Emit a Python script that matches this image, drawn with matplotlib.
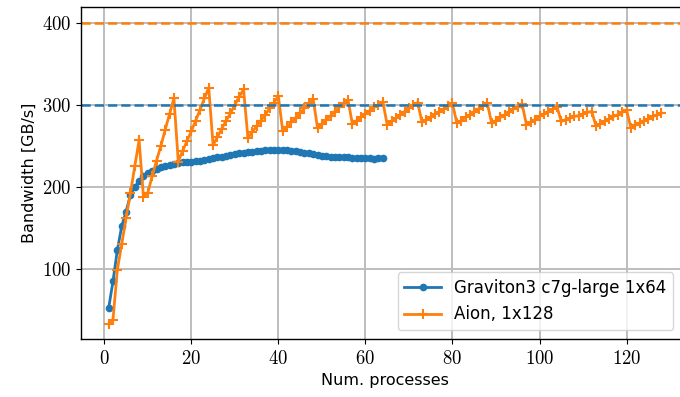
import matplotlib
matplotlib.use("Agg")
import matplotlib.pyplot as plt
from matplotlib.ticker import FuncFormatter

plt.rcParams["mathtext.fontset"] = "cm"
plt.rcParams["font.family"] = ["DejaVu Sans"]

# Graviton3 c7g-large, 1..64 processes
graviton_procs = list(range(1, 65))
graviton_bw = [52, 85, 123, 152, 170, 190, 200, 207, 213, 217, 220, 222, 224, 225, 227, 228,
               229, 230, 230, 231, 232, 232, 233, 234, 235, 236, 237, 238, 239, 240, 241, 242,
               243, 243, 244, 244, 245, 245, 245, 245, 245, 245, 244, 244, 243, 242, 241, 240,
               239, 238, 238, 237, 237, 236, 236, 236, 235, 235, 235, 235, 235, 234, 235, 235]

# Aion, 1..128 processes
aion_procs = list(range(1, 129))
aion_bw = [33, 38, 99, 130, 162, 192, 225, 257,
           188, 193, 213, 232, 250, 270, 289, 308,
           231, 244, 256, 268, 281, 294, 308, 321,
           251, 261, 271, 281, 290, 300, 310, 319,
           260, 267, 274, 281, 288, 296, 303, 311,
           268, 273, 279, 284, 290, 296, 302, 307,
           272, 277, 282, 287, 292, 297, 302, 306,
           277, 281, 285, 289, 293, 297, 300, 304,
           276, 280, 284, 288, 292, 296, 300, 303,
           279, 282, 285, 289, 292, 295, 299, 302,
           278, 281, 285, 288, 292, 295, 299, 302,
           278, 281, 285, 288, 291, 295, 298, 301,
           276, 279, 282, 286, 289, 292, 295, 298,
           280, 282, 284, 286, 287, 289, 291, 292,
           274, 277, 280, 283, 286, 288, 291, 294,
           272, 275, 278, 281, 283, 286, 288, 290]

# peak bandwidths
graviton_peak = 300
aion_peak = 400

fig = plt.figure(figsize=(6.8, 3.97), dpi=100)
ax = fig.add_axes([81 / 680, 58 / 397, 608 / 680, 332 / 397])

ax.plot(graviton_procs, graviton_bw, color="tab:blue", marker="o", markersize=4.5,
        linewidth=2, label="Graviton3 c7g-large 1x64")
ax.plot(aion_procs, aion_bw, color="tab:orange", marker="+", markersize=7.5,
        markeredgewidth=1.5, linewidth=2, label="Aion, 1x128")
ax.axhline(graviton_peak, color="tab:blue", linestyle="--", linewidth=1.8)
ax.axhline(aion_peak, color="tab:orange", linestyle="--", linewidth=1.8)

ax.set_xlim(-5.35, 134.35)
ax.set_ylim(14.5, 419.5)
ax.set_xticks([0, 20, 40, 60, 80, 100, 120])
ax.set_yticks([100, 200, 300, 400])
fmt = FuncFormatter(lambda v, p: f"${v:g}$")
ax.xaxis.set_major_formatter(fmt)
ax.yaxis.set_major_formatter(fmt)
ax.tick_params(labelsize=13.5)
ax.grid(True, color="#bdbdbd", linewidth=1.4)
ax.set_axisbelow(True)
ax.spines["right"].set_visible(False)
for s in ax.spines.values():
    s.set_linewidth(1.0)

ax.set_xlabel("Num. processes", fontsize=11.5)
ax.set_ylabel("Bandwidth [GB/s]", fontsize=11.5)
ax.legend(loc="lower right", bbox_to_anchor=(0.974, 0.027), borderaxespad=0,
          fontsize=12, handlelength=2.2)

fig.savefig("out.png", dpi=100)
